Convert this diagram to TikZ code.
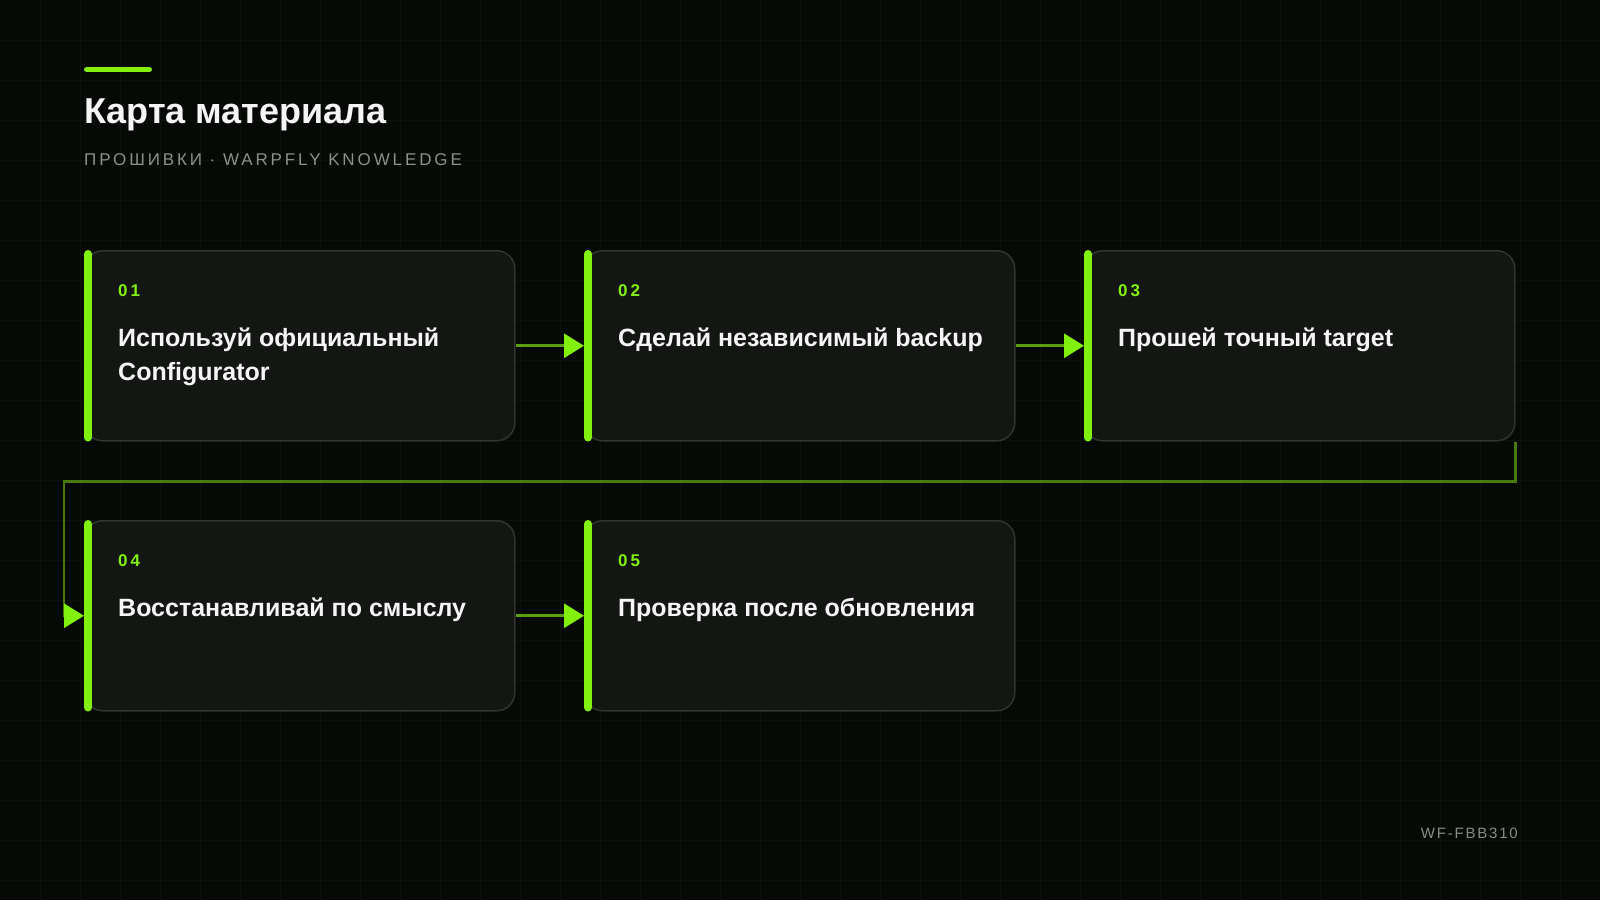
\documentclass[tikz,border=0pt]{standalone}
\usepackage{fontspec}
\setmainfont{Liberation Sans}
\newfontfamily\spacedfont[LetterSpace=17]{Liberation Sans}
\newfontfamily\numfont[LetterSpace=18]{Liberation Sans}
\newfontfamily\footfont[LetterSpace=12]{Liberation Sans}
\usetikzlibrary{arrows.meta}
\definecolor{bg}{RGB}{7,9,7}
\definecolor{gridc}{RGB}{13,17,13}
\definecolor{boxfill}{RGB}{19,22,19}
\definecolor{boxline}{RGB}{48,53,48}
\definecolor{accent}{RGB}{130,240,15}
\definecolor{flowline}{RGB}{92,158,18}
\definecolor{wrapc}{RGB}{72,122,14}
\definecolor{titlewhite}{RGB}{244,245,244}
\definecolor{subgray}{RGB}{140,145,140}
\definecolor{footgray}{RGB}{135,140,135}
\newcommand\twolines[2]{\vtop{\baselineskip=34pt\hbox{#1}\hbox{#2}}}
\begin{document}
\begin{tikzpicture}[x=1pt,y=-1pt,
  stepbox/.style={draw=boxline, line width=1.5pt, fill=boxfill, rounded corners=18pt,
    minimum width=430pt, minimum height=190pt, inner sep=0pt, anchor=north west},
  accentbar/.style={draw=accent, line width=8pt, line cap=round, shorten <=4pt, shorten >=4pt},
  stepnum/.style={anchor=base west, inner sep=0pt, text=accent, font=\numfont\bfseries\fontsize{17}{20}\selectfont},
  steptext/.style={anchor=base west, inner sep=0pt, text=titlewhite, font=\bfseries\fontsize{25}{34}\selectfont},
  flowarrow/.style={draw=flowline, line width=3pt, -{Triangle[length=20pt,width=24pt,color=accent,fill=accent]}},
  wrapline/.style={draw=wrapc, line width=2.5pt, -{Triangle[length=20pt,width=24pt,color=accent,fill=accent]}},
  gridline/.style={draw=gridc, line width=1pt}
]
\useasboundingbox (0,0) rectangle (1600,900);
\fill[bg] (0,0) rectangle (1600,900);
\foreach \i in {40,80,...,1560} \draw[gridline] (\i,0) -- (\i,900);
\foreach \j in {40,80,...,880} \draw[gridline] (0,\j) -- (1600,\j);

% header
\coordinate (hbarA) at (84,69.5);
\coordinate (hbarB) at (152,69.5);
\draw[draw=accent, line width=5.5pt, line cap=round, shorten <=2.75pt, shorten >=2.75pt] (hbarA) -- (hbarB);
\node[anchor=base west, inner sep=0pt, text=titlewhite, font=\bfseries\fontsize{36}{42}\selectfont] (title) at (84,123) {Карта материала};
\node[anchor=base west, inner sep=0pt, text=subgray, font=\spacedfont\fontsize{17}{20}\selectfont] (subtitle) at (84,165) {ПРОШИВКИ · WARPFLY KNOWLEDGE};

% boxes
\node[stepbox] (b1) at (84,250) {};
\node[stepbox] (b2) at (584,250) {};
\node[stepbox] (b3) at (1084,250) {};
\node[stepbox] (b4) at (84,520) {};
\node[stepbox] (b5) at (584,520) {};

\foreach \b in {b1,b2,b3,b4,b5}
  \draw[accentbar] ([xshift=4pt]\b.north west) -- ([xshift=4pt]\b.south west);

% texts
\node[stepnum] (n1) at (118,296.5) {01};
\node[steptext] (t1) at (118,346) {\twolines{Используй официальный}{Configurator}};
\node[stepnum] (n2) at (618,296.5) {02};
\node[steptext] (t2) at (618,346) {Сделай независимый backup};
\node[stepnum] (n3) at (1118,296.5) {03};
\node[steptext] (t3) at (1118,346) {Прошей точный target};
\node[stepnum] (n4) at (118,566.5) {04};
\node[steptext] (t4) at (118,616) {Восстанавливай по смыслу};
\node[stepnum] (n5) at (618,566.5) {05};
\node[steptext] (t5) at (618,616) {Проверка после обновления};

% connectors
\draw[flowarrow] (b1.east) -- (b2.west);
\draw[flowarrow] (b2.east) -- (b3.west);
\draw[flowarrow] (b4.east) -- (b5.west);
\draw[wrapline] (b3.south east) -- ++(0,40) -| ([xshift=-20pt]b4.west) -- (b4.west);

% footer
\node[anchor=base east, inner sep=0pt, text=footgray, font=\footfont\fontsize{15}{18}\selectfont] (footer) at (1518,838) {WF-FBB310};
\end{tikzpicture}
\end{document}
